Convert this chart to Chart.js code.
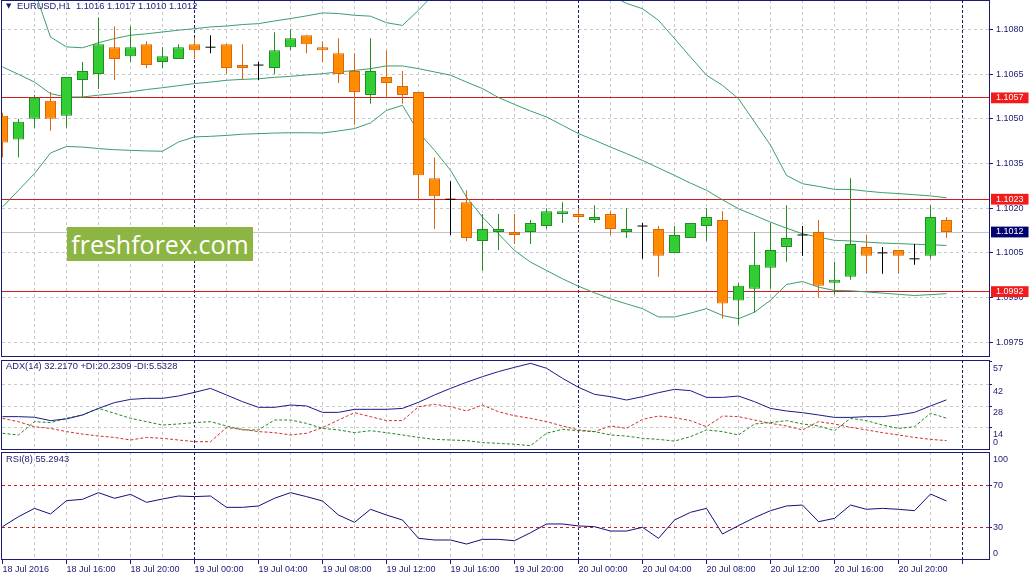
<!DOCTYPE html>
<html>
<head>
<meta charset="utf-8">
<script src="https://cdn.jsdelivr.net/npm/chart.js@4.4.1/dist/chart.umd.min.js"></script>
<style>
  html, body { margin: 0; padding: 0; background: #ffffff; }
  #wrap { position: relative; width: 1031px; height: 577px; overflow: hidden; background: #fff; }
  canvas { position: absolute; left: 0; }
  #cMain { top: 0; }
  #cAdx { top: 358px; }
  #cRsi { top: 451px; }
  #title { position: absolute; left: 6px; top: 0.7px; font: 9.3px "Liberation Sans", Arial, sans-serif; line-height: 11px; color: #1b1b70; white-space: pre; }
  #title .tri { font: 7px "DejaVu Sans", sans-serif; display: inline-block; width: 11px; vertical-align: 1px; }
  .ind { position: absolute; left: 6px; font: 9.3px "Liberation Sans", Arial, sans-serif; line-height: 11px; color: #1b1b70; white-space: pre; }
  #adxTitle { top: 361px; }
  #rsiTitle { top: 454px; }
  #wm { position: absolute; left: 67px; top: 227px; width: 186px; height: 34px; background: #8db543; color: #fff;
        font: 25px "Open Sans", sans-serif; line-height: 34px; text-align: center; }
</style>
</head>
<body>
<div id="wrap">
  <canvas id="cMain" width="1031" height="358"></canvas>
  <canvas id="cAdx" width="1031" height="93"></canvas>
  <canvas id="cRsi" width="1031" height="126"></canvas>
  <div id="title"><span class="tri">▼</span>EURUSD,H1  1.1016 1.1017 1.1010 1.1012</div>
  <div id="adxTitle" class="ind">ADX(14) 32.2170 +DI:20.2309 -DI:5.5328</div>
  <div id="rsiTitle" class="ind">RSI(8) 55.2943</div>
  <div id="wm">freshforex.com</div>
</div>
<script>
// ---------- DATA (hourly bars, index 0 = 18 Jul 2016 12:00) ----------
const open  = [1.1051,1.1043,1.1050,1.1056,1.1051,1.1063,1.1065,1.1074,1.1071,1.1075,
               1.1069,1.1070,1.1075,1.1074,1.1075,1.1068,1.1068,1.1067,1.1074,1.1078,
               1.1074,1.1072,1.1066,1.1058,1.1064,1.1061,1.1059,1.1030,1.1023,1.1022,
               1.1009,1.1012,1.1012,1.1012,1.1014,1.1018,1.1018,1.1016,1.1018,1.1012,
               1.1014,1.1013,1.1005,1.1010,1.1014,1.1016,1.0989,1.0993,1.1000,1.1007,
               1.1011,1.1012,1.0995,1.0997,1.1007,1.1005,1.1006,1.1003,1.1004,1.1016];
const high  = [1.1052,1.1050,1.1058,1.1059,1.1064,1.1069,1.1084,1.1081,1.1081,1.1076,
               1.1074,1.1075,1.1077,1.1078,1.1075,1.1075,1.1069,1.1079,1.1080,1.1078,
               1.1076,1.1077,1.1072,1.1077,1.1073,1.1066,1.1059,1.1037,1.1029,1.1026,
               1.1018,1.1018,1.1018,1.1016,1.1020,1.1022,1.1020,1.1021,1.1019,1.1020,
               1.1015,1.1014,1.1014,1.1015,1.1020,1.1019,1.0995,1.1012,1.1015,1.1021,
               1.1014,1.1016,1.1002,1.1030,1.1011,1.1007,1.1006,1.1008,1.1021,1.1017];
const low   = [1.1037,1.1037,1.1047,1.1046,1.1047,1.1057,1.1060,1.1063,1.1069,1.1067,
               1.1067,1.1070,1.1070,1.1072,1.1065,1.1063,1.1063,1.1065,1.1073,1.1072,
               1.1069,1.1062,1.1048,1.1055,1.1057,1.1055,1.1023,1.1013,1.1011,1.1009,
               1.0999,1.1006,1.1008,1.1008,1.1013,1.1015,1.1015,1.1015,1.1011,1.1010,
               1.1003,1.0997,1.1005,1.1010,1.1009,1.0983,1.0981,1.0985,1.0993,1.1002,
               1.1004,1.0990,1.0991,1.0996,1.0998,1.0998,1.0998,1.1001,1.1003,1.1010];
const close = [1.1042,1.1049,1.1057,1.1050,1.1064,1.1066,1.1075,1.1070,1.1074,1.1068,
               1.1071,1.1074,1.1073,1.1074,1.1067,1.1067,1.1068,1.1073,1.1077,1.1075,
               1.1073,1.1065,1.1059,1.1066,1.1062,1.1058,1.1031,1.1024,1.1023,1.1010,
               1.1013,1.1013,1.1011,1.1015,1.1019,1.1019,1.1017,1.1017,1.1013,1.1013,
               1.1014,1.1004,1.1011,1.1015,1.1017,1.0988,1.0994,1.1001,1.1006,1.1010,
               1.1011,1.0994,1.0996,1.1008,1.1004,1.1005,1.1004,1.1003,1.1017,1.1012];

const bbUpper  = [1.11144,1.11038,1.10930,1.10774,1.10741,1.10738,1.10755,1.10769,1.10780,1.10785,
                  1.10791,1.10797,1.10802,1.10808,1.10811,1.10816,1.10819,1.10828,1.10836,1.10845,
                  1.10855,1.10853,1.10847,1.10844,1.10822,1.10813,1.10864,1.10920,1.10965,1.11009,
                  1.11032,1.11028,1.11038,1.11033,1.11021,1.10993,1.10962,1.10940,1.10914,1.10887,
                  1.10869,1.10830,1.10769,1.10707,1.10646,1.10612,1.10567,1.10489,1.10411,1.10310,
                  1.10282,1.10273,1.10263,1.10263,1.10257,1.10252,1.10249,1.10245,1.10241,1.10235];
const bbMiddle = [1.10674,1.10649,1.10623,1.10584,1.10573,1.10573,1.10579,1.10584,1.10590,1.10598,
                  1.10604,1.10611,1.10618,1.10623,1.10629,1.10632,1.10634,1.10639,1.10642,1.10647,
                  1.10651,1.10657,1.10662,1.10668,1.10677,1.10677,1.10668,1.10657,1.10646,1.10623,
                  1.10601,1.10571,1.10548,1.10526,1.10506,1.10478,1.10450,1.10428,1.10405,1.10383,
                  1.10360,1.10335,1.10310,1.10284,1.10260,1.10228,1.10198,1.10176,1.10153,1.10133,
                  1.10114,1.10103,1.10092,1.10090,1.10086,1.10083,1.10081,1.10079,1.10077,1.10075];
const bbLower  = [1.10204,1.10260,1.10316,1.10385,1.10407,1.10405,1.10400,1.10396,1.10394,1.10392,
                  1.10391,1.10422,1.10439,1.10441,1.10444,1.10448,1.10450,1.10452,1.10453,1.10453,
                  1.10452,1.10459,1.10467,1.10486,1.10528,1.10545,1.10455,1.10394,1.10327,1.10237,
                  1.10170,1.10114,1.10058,1.10019,1.09991,1.09963,1.09938,1.09916,1.09896,1.09879,
                  1.09863,1.09835,1.09835,1.09848,1.09863,1.09840,1.09829,1.09851,1.09891,1.09944,
                  1.09954,1.09935,1.09924,1.09923,1.09919,1.09915,1.09911,1.09907,1.09910,1.09913];

const adx     = [21.2,21.2,20.8,18.6,19.7,22.3,26.6,30.4,32.5,33.2,33.2,34.7,37.1,39.7,35.4,31.0,27.3,27.3,28.8,28.2,
                 24.0,24.0,26.0,26.0,26.0,26.6,30.6,35.4,39.7,43.7,47.4,50.7,53.5,56.1,52.9,46.3,40.4,35.8,34.3,32.1,
                 34.3,36.9,39.1,38.2,33.8,33.8,34.7,31.0,26.6,24.9,23.8,22.3,20.7,20.7,21.2,21.2,22.3,24.0,28.2,32.2];
const plusDI  = [10.3,9.2,17.9,17.3,20.1,22.3,26.6,23.4,20.1,17.9,15.7,16.4,17.3,17.9,15.1,12.5,12.5,19.0,19.0,16.8,
                 13.5,12.5,10.7,12.0,10.7,9.2,7.6,6.3,5.9,5.5,4.2,3.7,3.1,2.2,10.3,12.9,12.0,11.4,9.2,8.5,
                 7.0,6.3,5.2,8.1,12.5,11.4,9.2,16.4,17.3,18.6,16.4,15.1,12.0,20.1,18.6,15.7,13.5,14.6,23.4,20.2];
const minusDI = [20.1,17.9,14.6,13.5,11.4,9.8,8.5,7.6,5.9,7.6,7.0,5.9,4.8,4.8,14.0,12.9,11.4,10.7,9.2,10.3,
                 14.0,19.0,23.8,21.2,18.6,18.6,27.7,29.3,27.7,24.9,28.8,24.4,21.8,20.1,17.9,15.1,12.5,11.4,15.1,13.5,
                 19.4,21.6,20.5,18.6,14.6,21.6,21.2,19.0,16.8,15.1,12.5,17.9,16.4,14.2,12.5,10.7,9.2,7.6,6.3,5.5];
const rsi     = [30.6,40.2,48.2,42.8,55.6,56.9,63.3,57.9,61.7,54.0,57.2,60.1,59.5,60.1,49.2,49.2,50.5,57.9,63.3,59.5,
                 55.3,41.8,34.8,47.3,41.8,37.0,19.4,17.8,17.8,13.9,18.4,18.4,17.1,24.8,33.2,33.2,31.3,30.6,26.4,26.4,
                 30.0,19.4,37.0,44.4,48.2,23.6,31.6,39.3,46.0,50.5,51.4,35.4,38.6,51.4,47.3,48.2,47.3,46.0,62.0,55.3];

// tick labels on the time axis: one every 4 bars, starting at bar 0
const timeTickLabels = ['18 Jul 2016','18 Jul 16:00','18 Jul 20:00','19 Jul 00:00','19 Jul 04:00','19 Jul 08:00',
                        '19 Jul 12:00','19 Jul 16:00','19 Jul 20:00','20 Jul 00:00','20 Jul 04:00','20 Jul 08:00',
                        '20 Jul 12:00','20 Jul 16:00','20 Jul 20:00'];
const daySeparators = [12, 36, 60];          // bar index of 19 Jul, 20 Jul, 21 Jul 00:00
const priceTicks = [1.1080,1.1065,1.1050,1.1035,1.1020,1.1005,1.0990,1.0975];
const levelLines = [1.1057,1.1023,1.0992];   // red horizontal lines
const bidPrice = 1.1012;
const adxTicks = [57,42,28,14,0];
const rsiTicks = [100,70,30,0];
const rsiLevels = [70,30];

// ---------- STYLE ----------
const NAVY = '#1b1b70';
const GRID = '#c9c9c9';
const RED = '#d41c1c';
const LABEL_RED = '#f21b1b';
const BULL = '#32cd32', BULL_EDGE = '#1f8f1f';
const BEAR = '#ff8c00', BEAR_EDGE = '#d9650f';
const BB = '#3d9d6e';
const FONT = '"Liberation Sans", Arial, sans-serif';
const CLEAR = 'rgba(0,0,0,0)';
const X_MIN = -0.03125, X_MAX = 61.65625;

const bars = open.map((_, i) => i);
const noPad = s => { s.paddingTop = 0; s.paddingBottom = 0; s.paddingLeft = 0; s.paddingRight = 0; };

const frame = {
  id: 'frame',
  afterDraw(chart) {
    const { ctx, chartArea: a } = chart;
    ctx.save();
    ctx.strokeStyle = NAVY; ctx.lineWidth = 1;
    const l = Math.round(a.left) - 0.5, r = Math.round(a.right) + 0.5;
    const t = Math.round(a.top) + 0.5, b = Math.round(a.bottom) - 0.5;
    ctx.strokeRect(l, t, r - l, b - t);
    ctx.restore();
  }
};

function xAxis(withLabels) {
  return {
    type: 'linear', min: X_MIN, max: X_MAX, offset: false,
    afterBuildTicks: s => {
      const t = [];
      for (let v = 0; v <= 60; v += 2) t.push({ value: v });
      s.ticks = t;
    },
    afterFit: s => { s.height = withLabels ? 17 : 0; noPad(s); },
    grid: {
      offset: false, lineWidth: 1, drawTicks: withLabels, tickLength: 4,
      color: c => {
        const v = c.tick ? c.tick.value : -1;
        if (v === 0) return CLEAR;
        return daySeparators.includes(v) ? NAVY : GRID;
      },
      tickColor: c => (c.tick && c.tick.value % 4 === 0) ? NAVY : CLEAR
    },
    border: {
      display: false,
      dash: c => (c.tick && daySeparators.includes(c.tick.value)) ? [3, 2] : [3, 3]
    },
    ticks: {
      display: withLabels, autoSkip: false, maxRotation: 0, minRotation: 0, align: 'start', padding: 0,
      color: NAVY, font: { family: FONT, size: 9, lineHeight: 1.2 },
      callback: v => (v % 4 === 0 && timeTickLabels[v / 4] !== undefined) ? timeTickLabels[v / 4] : ''
    }
  };
}

const common = {
  responsive: false, animation: false, events: [],
  plugins: { legend: { display: false }, tooltip: { enabled: false } }
};

// ---------- MAIN PRICE PANEL ----------
const isLevel = v => levelLines.some(l => Math.abs(l - v) < 1e-9);
const isBid = v => Math.abs(v - bidPrice) < 1e-9;
const isMarked = v => isLevel(v) || isBid(v);
const candleEdge = i => close[i] > open[i] ? BULL_EDGE : (close[i] < open[i] ? BEAR_EDGE : '#000000');

new Chart(document.getElementById('cMain'), {
  type: 'line',
  data: {
    datasets: [
      { type: 'line', label: 'upper', data: bars.map(i => ({ x: i, y: bbUpper[i] })), borderColor: BB, borderWidth: 1, pointRadius: 0, tension: 0, order: 5 },
      { type: 'line', label: 'middle', data: bars.map(i => ({ x: i, y: bbMiddle[i] })), borderColor: BB, borderWidth: 1, pointRadius: 0, tension: 0, order: 5 },
      { type: 'line', label: 'lower', data: bars.map(i => ({ x: i, y: bbLower[i] })), borderColor: BB, borderWidth: 1, pointRadius: 0, tension: 0, order: 5 },
      { type: 'bar', label: 'wick', data: bars.map(i => ({ x: i, y: [low[i], high[i]] })),
        backgroundColor: c => candleEdge(c.dataIndex), borderWidth: 0, barThickness: 1,
        grouped: false, inflateAmount: 0, clip: 0, order: 2 },
      { type: 'bar', label: 'body', data: bars.filter(i => open[i] !== close[i]).map(i => ({ x: i, y: [open[i], close[i]] })),
        backgroundColor: c => (c.raw && c.raw.y[1] > c.raw.y[0]) ? BULL : BEAR,
        borderColor: c => (c.raw && c.raw.y[1] > c.raw.y[0]) ? BULL_EDGE : BEAR_EDGE,
        borderWidth: 1, borderSkipped: false, barThickness: 11, grouped: false, inflateAmount: 0, clip: 0, order: 1 },
      { type: 'line', label: 'doji', data: bars.filter(i => open[i] === close[i]).map(i => ({ x: i, y: open[i] })),
        showLine: false, pointStyle: 'line', pointRadius: 5, pointBorderColor: '#000000', pointBorderWidth: 1, order: 0 }
    ]
  },
  options: Object.assign({}, common, {
    layout: { autoPadding: false, padding: { left: 2, top: 0, right: 0, bottom: 1 } },
    scales: {
      x: xAxis(false),
      y: {
        type: 'linear', position: 'right', min: 1.097007, max: 1.108983,
        afterBuildTicks: s => {
          s.ticks = priceTicks.concat([bidPrice], levelLines).map(v => ({ value: v }));
        },
        afterFit: s => { s.width = 42; noPad(s); },
        grid: {
          lineWidth: 1, tickLength: 4,
          color: c => {
            const v = c.tick ? c.tick.value : 0;
            if (isLevel(v)) return RED;
            if (isBid(v)) return '#c4c4c4';
            return GRID;
          },
          tickColor: c => (c.tick && isMarked(c.tick.value)) ? CLEAR : NAVY
        },
        border: { display: false, dash: c => (c.tick && !isMarked(c.tick.value)) ? [3, 3] : [] },
        ticks: {
          autoSkip: false, padding: 3,
          font: { family: FONT, size: 9, lineHeight: 1.2 },
          color: c => (c.tick && isMarked(c.tick.value)) ? '#ffffff' : NAVY,
          showLabelBackdrop: c => !!(c.tick && isMarked(c.tick.value)),
          backdropColor: c => (c.tick && isBid(c.tick.value)) ? '#000070' : LABEL_RED,
          backdropPadding: { left: 5, right: 5, top: 0, bottom: 0 },
          callback: v => Number(v).toFixed(4)
        }
      }
    }
  }),
  plugins: [frame]
});

// ---------- ADX PANEL ----------
new Chart(document.getElementById('cAdx'), {
  type: 'line',
  data: {
    datasets: [
      { label: 'ADX', data: bars.map(i => ({ x: i, y: adx[i] })), borderColor: '#1a1a8a', borderWidth: 1, pointRadius: 0, tension: 0 },
      { label: '+DI', data: bars.map(i => ({ x: i, y: plusDI[i] })), borderColor: '#1f8a1f', borderWidth: 1, borderDash: [3, 2], pointRadius: 0, tension: 0 },
      { label: '-DI', data: bars.map(i => ({ x: i, y: minusDI[i] })), borderColor: '#d03030', borderWidth: 1, borderDash: [3, 2], pointRadius: 0, tension: 0 }
    ]
  },
  options: Object.assign({}, common, {
    layout: { autoPadding: false, padding: { left: 2, top: 2, right: 0, bottom: 1 } },
    scales: {
      x: xAxis(false),
      y: {
        type: 'linear', position: 'right', min: -0.65, max: 58.3,
        afterBuildTicks: s => { s.ticks = adxTicks.map(v => ({ value: v })); },
        afterFit: s => { s.width = 42; noPad(s); },
        grid: {
          lineWidth: 1, tickLength: 3,
          color: c => (c.tick && c.tick.value > 0 && c.tick.value < 57) ? GRID : CLEAR,
          tickColor: c => (c.tick && c.tick.value > 0) ? NAVY : CLEAR
        },
        border: { display: false, dash: c => c.tick ? [3, 3] : [] },
        ticks: {
          autoSkip: false, padding: 1, color: NAVY,
          font: { family: FONT, size: 9, lineHeight: 1.5 },
          callback: v => v === 0 ? ['0', ''] : ['', String(v)]
        }
      }
    }
  }),
  plugins: [frame]
});

// ---------- RSI PANEL ----------
new Chart(document.getElementById('cRsi'), {
  type: 'line',
  data: {
    datasets: [
      { label: 'RSI', data: bars.map(i => ({ x: i, y: rsi[i] })), borderColor: '#10107a', borderWidth: 1, pointRadius: 0, tension: 0 }
    ]
  },
  options: Object.assign({}, common, {
    layout: { autoPadding: false, padding: { left: 2, top: 1, right: 0, bottom: 0 } },
    scales: {
      x: xAxis(true),
      y: {
        type: 'linear', position: 'right', min: -1.44, max: 102.4,
        afterBuildTicks: s => { s.ticks = rsiTicks.map(v => ({ value: v })); },
        afterFit: s => { s.width = 42; noPad(s); },
        grid: {
          lineWidth: 1, tickLength: 3,
          color: c => (c.tick && rsiLevels.includes(c.tick.value)) ? '#c82020' : CLEAR,
          tickColor: c => (c.tick && rsiLevels.includes(c.tick.value)) ? NAVY : CLEAR
        },
        border: { display: false, dash: c => c.tick ? [3, 3] : [] },
        ticks: {
          autoSkip: false, padding: 1, color: NAVY,
          font: { family: FONT, size: 9, lineHeight: 1.2 },
          callback: v => v === 100 ? ['', '100'] : (v === 0 ? ['0', ''] : String(v))
        }
      }
    }
  }),
  plugins: [frame]
});
</script>
</body>
</html>
